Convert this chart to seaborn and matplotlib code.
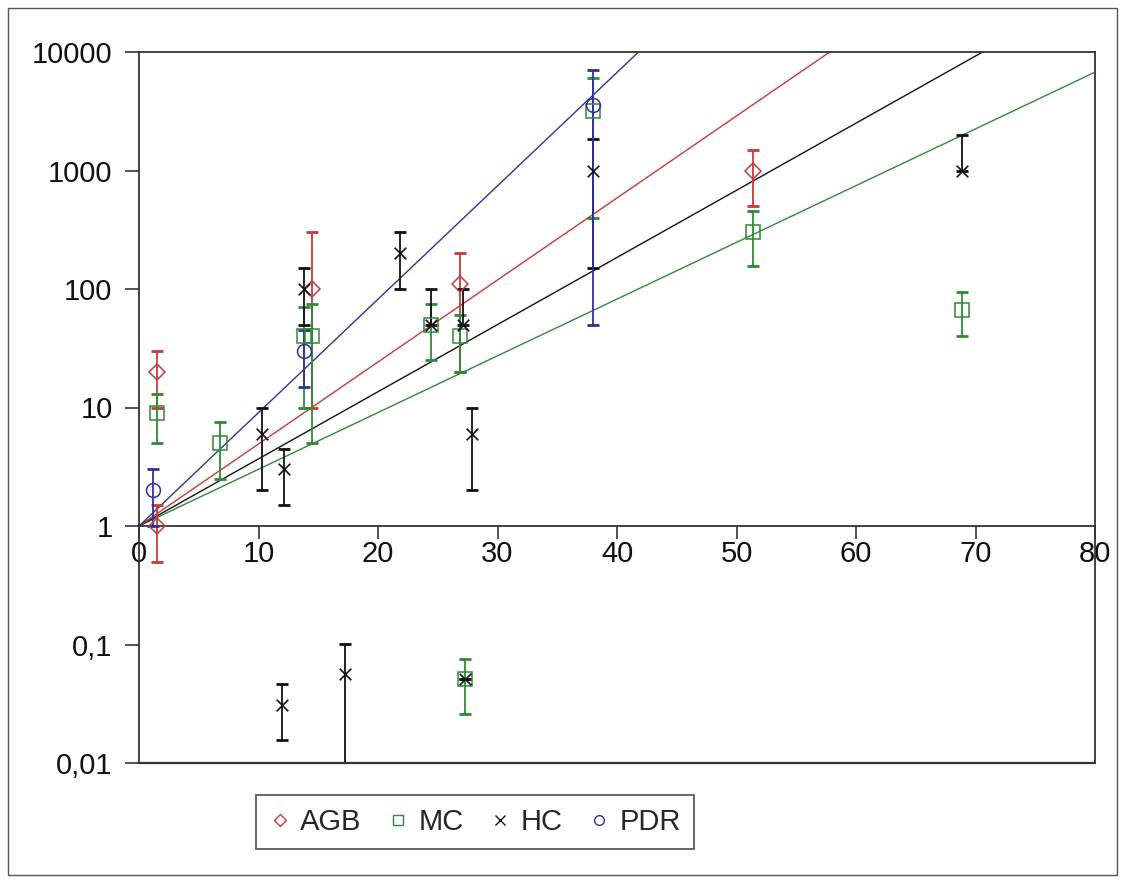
import numpy as np
import pandas as pd
import matplotlib
matplotlib.use("Agg")
import matplotlib.pyplot as plt
from matplotlib.lines import Line2D
from matplotlib.patches import Rectangle
import seaborn as sns

# fit lines (read end points off the picture)
fit_x = {"PDR": [0, 41.8], "AGB": [0, 57.8], "HC": [0, 70.6], "MC": [0, 80]}
fit_y = {"PDR": [1, 10000], "AGB": [1, 10000], "HC": [1, 10000], "MC": [1, 6760]}

# measured points with error bars (lower, upper)
agb_x = [1.5, 1.5, 14.5, 26.9, 51.4]
agb_y = [20, 1, 100, 110, 1000]
agb_lo = [10, 0.5, 90, 90, 500]
agb_hi = [10, 0.5, 200, 90, 500]

mc_x = [1.5, 6.8, 13.8, 14.5, 24.4, 26.9, 27.3, 38.0, 51.4, 68.9]
mc_y = [9, 5, 40, 40, 50, 40, 0.051, 3200, 305, 66]
mc_lo = [4, 2.5, 30, 35, 25, 20, 0.025, 2800, 150, 26]
mc_hi = [4, 2.5, 30, 35, 25, 20, 0.025, 2800, 150, 28]

hc_x = [10.3, 12.1, 12.0, 17.2, 13.8, 21.8, 24.4, 27.1, 27.9, 27.3, 38.0, 68.9]
hc_y = [6, 3, 0.031, 0.056, 100, 200, 50, 50, 6, 0.051, 1000, 1000]
hc_lo = [4, 1.5, 0.0155, 0.046, 50, 100, 0, 0, 4, 0.0, 850, 0]
hc_hi = [4, 1.5, 0.0155, 0.045, 50, 100, 50, 50, 4, 0.0, 850, 1000]

pdr_x = [1.2, 13.8, 38.0]
pdr_y = [2, 30, 3600]
pdr_lo = [1, 15, 3550]
pdr_hi = [1, 15, 3400]

series = ["AGB", "MC", "HC", "PDR"]
colors = {"AGB": "#c83a3a", "MC": "#2e8a36", "HC": "#111111", "PDR": "#30309a"}
markers = {"AGB": "D", "MC": "s", "HC": "x", "PDR": "o"}
msize = {"AGB": 8, "MC": 10, "HC": 9, "PDR": 10}

points = {
    "AGB": (agb_x, agb_y, agb_lo, agb_hi),
    "MC": (mc_x, mc_y, mc_lo, mc_hi),
    "HC": (hc_x, hc_y, hc_lo, hc_hi),
    "PDR": (pdr_x, pdr_y, pdr_lo, pdr_hi),
}

sns.set_style("white")
plt.rcParams["font.family"] = ["Liberation Sans", "DejaVu Sans"]

fig = plt.figure(figsize=(11.25, 8.83), dpi=100)
ax = fig.add_axes([139 / 1125, 1 - 763 / 883, 956 / 1125, 711 / 883])

# fit lines
for name in ["MC", "HC", "AGB", "PDR"]:
    df = pd.DataFrame({"x": fit_x[name], "y": fit_y[name]})
    sns.lineplot(data=df, x="x", y="y", color=colors[name], lw=1.0, ax=ax)

# points + error bars
for name in series:
    x, y, lo, hi = points[name]
    ax.errorbar(x, y, yerr=[lo, hi], fmt="none", ecolor=colors[name],
                elinewidth=1.3, capsize=4, capthick=2, zorder=3)
    df = pd.DataFrame({"x": x, "y": y})
    if markers[name] == "x":
        sns.scatterplot(data=df, x="x", y="y", marker="x", s=70, color=colors[name],
                        linewidth=1.2, ax=ax, zorder=4)
    else:
        ax.plot(x, y, ls="none", marker=markers[name], ms=msize[name],
                mfc="none", mec=colors[name], mew=1.1, zorder=4)

ax.set_yscale("log")
ax.set_ylim(0.01, 10000)
ax.set_xlim(0, 80)
ax.set_xlabel("")
ax.set_ylabel("")

ax.yaxis.set_major_locator(matplotlib.ticker.FixedLocator([0.01, 0.1, 1, 10, 100, 1000, 10000]))
ax.yaxis.set_major_formatter(matplotlib.ticker.FixedFormatter(["0,01", "0,1", "1", "10", "100", "1000", "10000"]))
ax.yaxis.set_minor_locator(matplotlib.ticker.NullLocator())
ax.set_xticks(range(0, 81, 10))
ax.xaxis.set_minor_locator(matplotlib.ticker.NullLocator())

for s in ax.spines.values():
    s.set_visible(True)
    s.set_color("#333333")
    s.set_linewidth(1.3)
ax.spines["bottom"].set_position(("data", 1))
ax.axhline(0.01, color="#333333", lw=1.6, clip_on=False, zorder=5)

ax.tick_params(axis="y", direction="out", length=10, width=1.2, colors="#333333",
               labelsize=21, labelcolor="#111111", pad=9, left=True)
ax.tick_params(axis="x", direction="out", length=9, width=1.2, colors="#333333",
               labelsize=21, labelcolor="#111111", pad=1, bottom=True)

handles = [Line2D([], [], ls="none", marker=markers[n], ms=7 if n != "AGB" else 6,
                  mfc="none", mec=colors[n], color=colors[n], mew=1.0) for n in series]
leg = fig.legend(handles, series, loc="center", bbox_to_anchor=(475 / 1125, 1 - 822 / 883),
                 ncol=4, frameon=True, fancybox=False, fontsize=21, handlelength=0.7,
                 handletextpad=0.35, columnspacing=0.9, borderpad=0.45)
leg.get_frame().set_edgecolor("#333333")
leg.get_frame().set_linewidth(1.3)

fig.patches.append(Rectangle((8 / 1125, 8 / 883), 1109 / 1125, 867 / 883, transform=fig.transFigure,
                             fill=False, edgecolor="#555555", lw=1.0))

fig.savefig("out.png", dpi=100)
